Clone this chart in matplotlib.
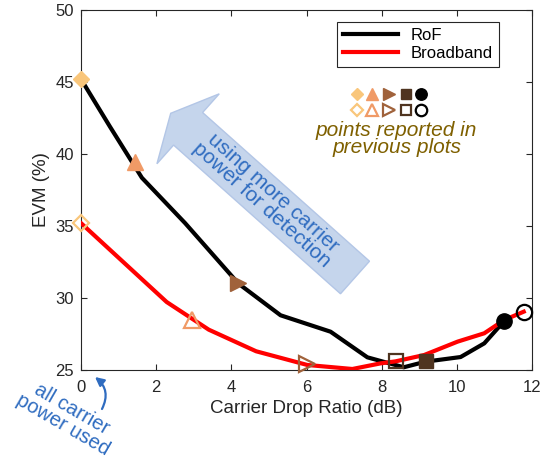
import numpy as np
import matplotlib
matplotlib.use("Agg")
import matplotlib.pyplot as plt
import matplotlib.patches as mpatches
import matplotlib.transforms as mtransforms

plt.rcParams['font.family'] = ['Liberation Sans', 'DejaVu Sans']

# curves
rof_x = [0, 0.77, 1.62, 2.77, 4.19, 5.31, 6.64, 7.62, 8.15, 8.59, 9.17, 10.1, 10.73, 11.26]
rof_y = [45.2, 41.9, 38.35, 35.2, 31.0, 28.8, 27.66, 25.88, 25.5, 25.19, 25.58, 25.9, 26.85, 28.4]
bb_x = [0, 2.28, 3.4, 4.66, 6.02, 7.22, 7.97, 8.37, 9.13, 10.02, 10.73, 11.26, 11.78]
bb_y = [35.2, 29.72, 27.8, 26.3, 25.35, 25.07, 25.46, 25.6, 26.04, 26.97, 27.55, 28.47, 29.05]

# points reported in previous plots (filled = RoF, open = Broadband)
rof_pt_x = [0, 1.44, 4.19, 9.17, 11.26]
rof_pt_y = [45.2, 39.42, 31.02, 25.65, 28.4]
bb_pt_x = [0, 2.95, 6.02, 8.37, 11.78]
bb_pt_y = [35.2, 28.47, 25.43, 25.62, 29.05]
pt_markers = ['D', '^', '>', 's', 'o']
pt_colors = ['#F9C67B', '#F09A66', '#A0623B', '#4F3420', 'black']
pt_sizes = [8.5, 12, 12, 10, 11]

# little key of markers
key_x = [7.35, 7.73, 8.19, 8.64, 9.04]
key_y_filled = 44.2
key_y_open = 43.05

xticks = [0, 2, 4, 6, 8, 10, 12]
yticks = [25, 30, 35, 40, 45, 50]

fig = plt.figure(figsize=(5.4, 4.58), dpi=100)
ax = fig.add_axes([81/540, 1-370/458, 451/540, 360/458])
# pixel coords measured from top-left of the figure
px = mtransforms.Affine2D().scale(1/540, -1/458).translate(0, 1) + fig.transFigure

blue = '#2F6CC0'

# big arrow behind the data
arr = mpatches.FancyArrow(355, 277.5, -184.3, -164.2, width=43.6, head_width=93.7,
                          head_length=23.3, length_includes_head=True, transform=px,
                          facecolor='#C5D5EC', edgecolor='#B3C6E6', lw=1, zorder=1)
fig.patches.append(arr)
fig.text(267, 199, "using more carrier\npower for detection", transform=px,
         color=blue, fontsize=15, rotation=-41.7, ha='center', va='center',
         rotation_mode='anchor', linespacing=0.88, zorder=2)

ax.set_zorder(3)
ax.patch.set_alpha(0)

ax.plot(rof_x, rof_y, color='black', lw=3, label='RoF', zorder=3)
ax.plot(bb_x, bb_y, color='red', lw=3, label='Broadband', zorder=3)

for i in range(5):
    ax.plot(rof_pt_x[i], rof_pt_y[i], marker=pt_markers[i], color=pt_colors[i],
            ms=pt_sizes[i], mec=pt_colors[i], ls='none', clip_on=False, zorder=4)
    ax.plot(bb_pt_x[i], bb_pt_y[i], marker=pt_markers[i], mfc='none', mec=pt_colors[i],
            mew=1.6, ms=pt_sizes[i], ls='none', clip_on=False, zorder=4)
    ax.plot(key_x[i], key_y_filled, marker=pt_markers[i], color=pt_colors[i],
            ms=pt_sizes[i]*0.75, ls='none', zorder=4)
    ax.plot(key_x[i], key_y_open, marker=pt_markers[i], mfc='none', mec=pt_colors[i],
            mew=1.6, ms=pt_sizes[i]*0.75, ls='none', zorder=4)

ax.text(8.4, 41.05, "points reported in\nprevious plots", color='#7F6000', fontsize=15,
        style='italic', ha='center', va='center', linespacing=0.82)

ax.set_xlim(0, 12)
ax.set_ylim(25, 50)
ax.set_xticks(xticks)
ax.set_yticks(yticks)
ax.tick_params(direction='in', top=True, right=True, length=4, width=0.8,
               labelsize=12, colors='#262626')
ax.tick_params(axis='x', pad=7)
ax.tick_params(axis='y', pad=5)
for s in ax.spines.values():
    s.set_color('#262626')
    s.set_linewidth(0.8)
ax.set_xlabel("Carrier Drop Ratio (dB)", fontsize=13.5, color='#262626', labelpad=4)
ax.set_ylabel("EVM (%)", fontsize=13.5, color='#262626', labelpad=4)

leg = ax.legend(loc='upper right', bbox_to_anchor=(0.927, 0.967), borderaxespad=0,
                fontsize=12, fancybox=False, framealpha=1, edgecolor='#262626',
                handlelength=3.3, borderpad=0.35, labelspacing=0.2)
leg.get_frame().set_linewidth(0.8)

# bottom-left note
fig.text(67, 417, "all carrier\npower used", transform=px, color=blue, fontsize=14.5,
         rotation=-30, ha='center', va='center', rotation_mode='anchor', linespacing=0.9)
ax.annotate("", xy=(95, 377), xycoords=px, xytext=(102, 409), textcoords=px,
            arrowprops=dict(arrowstyle='-|>', color=blue, lw=1.6, mutation_scale=13,
                            shrinkA=0, shrinkB=0,
                            connectionstyle='arc3,rad=0.4'), annotation_clip=False)

fig.savefig("out.png", dpi=100)
